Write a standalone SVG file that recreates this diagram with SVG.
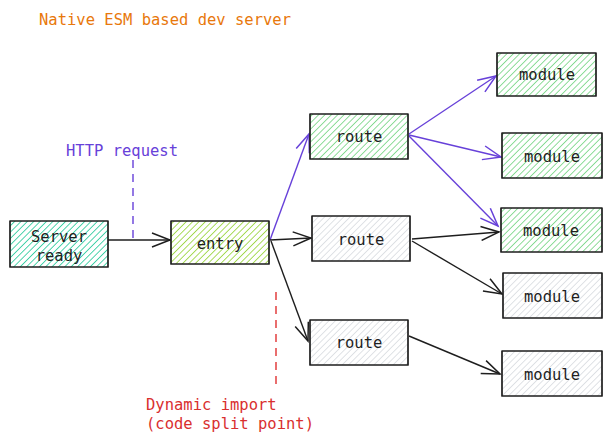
<svg xmlns="http://www.w3.org/2000/svg" width="612" height="442" viewBox="0 0 612 442">
<style>
  .t{font-family:"DejaVu Sans Mono","Liberation Mono",monospace;font-size:15.5px;}
  .lbl{fill:#1e1e1e;text-anchor:middle;}
  .box{stroke:#1e1e1e;stroke-width:1.7;stroke-linejoin:round;}
  .teal{fill:url(#hTeal);}
  .lime{fill:url(#hLime);}
  .green{fill:url(#hGreen);}
  .gray{fill:url(#hGray);}
  .ck{fill:none;stroke:#1e1e1e;stroke-width:1.4;}
  .cp{fill:none;stroke:#6741d9;stroke-width:1.4;}
</style>
<defs>
  <pattern id="hTeal" width="4.5" height="4.5" patternUnits="userSpaceOnUse" patternTransform="rotate(45)">
    <rect width="4.5" height="4.5" fill="#ffffff"/>
    <line x1="0" y1="0" x2="0" y2="4.5" stroke="#2fcc9e" stroke-width="1.7"/>
  </pattern>
  <pattern id="hLime" width="4.5" height="4.5" patternUnits="userSpaceOnUse" patternTransform="rotate(45)">
    <rect width="4.5" height="4.5" fill="#ffffff"/>
    <line x1="0" y1="0" x2="0" y2="4.5" stroke="#9ad63e" stroke-width="1.7"/>
  </pattern>
  <pattern id="hGreen" width="4.5" height="4.5" patternUnits="userSpaceOnUse" patternTransform="rotate(45)">
    <rect width="4.5" height="4.5" fill="#ffffff"/>
    <line x1="0" y1="0" x2="0" y2="4.5" stroke="#72d481" stroke-width="1.6"/>
  </pattern>
  <pattern id="hGray" width="4.5" height="4.5" patternUnits="userSpaceOnUse" patternTransform="rotate(45)">
    <rect width="4.5" height="4.5" fill="#ffffff"/>
    <line x1="0" y1="0" x2="0" y2="4.5" stroke="#d2d6db" stroke-width="1.4"/>
  </pattern>
  <marker id="ak" markerWidth="22" markerHeight="16" refX="19" refY="8" orient="auto" markerUnits="userSpaceOnUse">
    <path d="M1,1 L19,8 L1,15" fill="none" stroke="#1e1e1e" stroke-width="1.5"/>
  </marker>
  <marker id="ap" markerWidth="22" markerHeight="16" refX="19" refY="8" orient="auto" markerUnits="userSpaceOnUse">
    <path d="M1,1 L19,8 L1,15" fill="none" stroke="#6741d9" stroke-width="1.5"/>
  </marker>
</defs>
<rect width="612" height="442" fill="#ffffff"/>

<g id="connectors">
  <path class="ck" d="M108,240 L170,240" marker-end="url(#ak)"/>
  <path class="cp" d="M270,240 L309,134" marker-end="url(#ap)"/>
  <path class="ck" d="M270,240 L311,238" marker-end="url(#ak)"/>
  <path class="ck" d="M271,241 L308,341" marker-end="url(#ak)"/>
  <path class="cp" d="M409,134 L496,76" marker-end="url(#ap)"/>
  <path class="cp" d="M409,135 L501,157" marker-end="url(#ap)"/>
  <path class="cp" d="M409,136 L498,226" marker-end="url(#ap)"/>
  <path class="ck" d="M412,239 L499,232" marker-end="url(#ak)"/>
  <path class="ck" d="M412,241 L502,294" marker-end="url(#ak)"/>
  <path class="ck" d="M409,336 L500,374" marker-end="url(#ak)"/>
  <path d="M133,160 L133,238" fill="none" stroke="#6741d9" stroke-width="1.4" stroke-dasharray="8,6"/>
  <path d="M276,292 L276,388" fill="none" stroke="#e03131" stroke-width="1.4" stroke-dasharray="8,6"/>
</g>

<g id="title"><text class="t" x="39" y="25" fill="#e8780c">Native ESM based dev server</text></g>
<g id="http-label"><text class="t" x="66" y="156" fill="#6741d9">HTTP request</text></g>
<g id="dynamic-label">
  <text class="t" x="146" y="410" fill="#d92f2f">Dynamic import</text>
  <text class="t" x="146" y="429" fill="#d92f2f">(code split point)</text>
</g>

<g id="server-ready"><rect class="box teal" x="10" y="221" width="98" height="46"/>
  <text class="t lbl" x="59" y="242">Server</text><text class="t lbl" x="59" y="261">ready</text></g>
<g id="entry"><rect class="box lime" x="171" y="221" width="98" height="43"/>
  <text class="t lbl" x="220" y="249">entry</text></g>
<g id="route-1"><rect class="box green" x="310" y="114" width="98" height="45"/>
  <text class="t lbl" x="359" y="142">route</text></g>
<g id="route-2"><rect class="box gray" x="312" y="216" width="98" height="45"/>
  <text class="t lbl" x="361" y="245">route</text></g>
<g id="route-3"><rect class="box gray" x="310" y="320" width="98" height="45"/>
  <text class="t lbl" x="359" y="348">route</text></g>
<g id="module-1"><rect class="box green" x="497" y="53" width="99" height="43"/>
  <text class="t lbl" x="547" y="80">module</text></g>
<g id="module-2"><rect class="box green" x="502" y="133" width="100" height="45"/>
  <text class="t lbl" x="552" y="162">module</text></g>
<g id="module-3"><rect class="box green" x="501" y="208" width="101" height="44"/>
  <text class="t lbl" x="551" y="236">module</text></g>
<g id="module-4"><rect class="box gray" x="503" y="273" width="99" height="45"/>
  <text class="t lbl" x="552" y="302">module</text></g>
<g id="module-5"><rect class="box gray" x="502" y="351" width="100" height="45"/>
  <text class="t lbl" x="552" y="380">module</text></g>
</svg>
